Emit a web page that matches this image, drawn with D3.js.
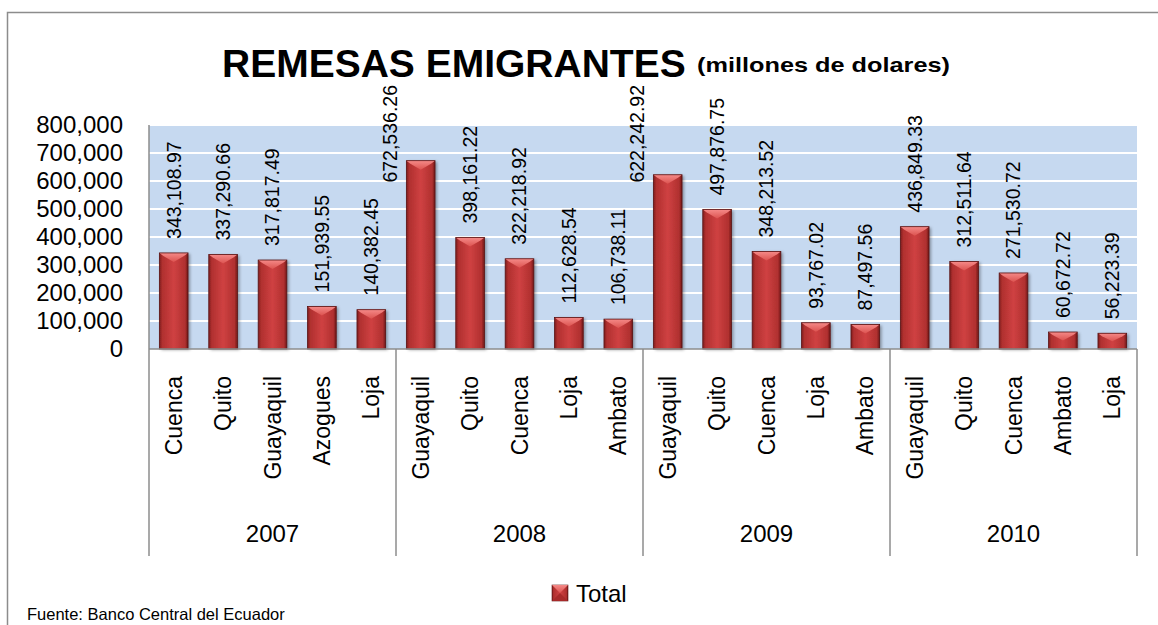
<!DOCTYPE html>
<html>
<head>
<meta charset="utf-8">
<script src="https://cdn.jsdelivr.net/npm/d3@7"></script>
<style>
  html, body { margin: 0; padding: 0; background: #fff; }
  svg { display: block; }
  text { font-family: "Liberation Sans", Arial, sans-serif; fill: #000; }
</style>
</head>
<body>
<svg id="chart" width="1158" height="625"></svg>
<script>
// ---- data ----
const years = ["2007", "2008", "2009", "2010"];
const categories = [
  "Cuenca", "Quito", "Guayaquil", "Azogues", "Loja",
  "Guayaquil", "Quito", "Cuenca", "Loja", "Ambato",
  "Guayaquil", "Quito", "Cuenca", "Loja", "Ambato",
  "Guayaquil", "Quito", "Cuenca", "Ambato", "Loja"
];
const categoryYear = [
  "2007", "2007", "2007", "2007", "2007",
  "2008", "2008", "2008", "2008", "2008",
  "2009", "2009", "2009", "2009", "2009",
  "2010", "2010", "2010", "2010", "2010"
];
const values = [
  343108.97, 337290.66, 317817.49, 151939.55, 140382.45,
  672536.26, 398161.22, 322218.92, 112628.54, 106738.11,
  622242.92, 497876.75, 348213.52, 93767.02, 87497.56,
  436849.33, 312511.64, 271530.72, 60672.72, 56223.39
];
const yTicks = [0, 100000, 200000, 300000, 400000, 500000, 600000, 700000, 800000];
const seriesName = "Total";
const titleMain = "REMESAS EMIGRANTES";
const titleSub = "(millones de dolares)";
const sourceNote = "Fuente: Banco Central del Ecuador";

// ---- layout ----
const svg = d3.select("#chart");
const plot = { left: 149, right: 1137, top: 125, bottom: 349 };
const catBottom = 556;
const titleFloor = 85;

const x = d3.scaleBand()
  .domain(d3.range(categories.length))
  .range([plot.left, plot.right])
  .paddingInner(0.42)
  .paddingOuter(0.21);

const y = d3.scaleLinear()
  .domain([0, 800000])
  .range([plot.bottom, plot.top]);

const defs = svg.append("defs");

// bar face gradient
const gFace = defs.append("linearGradient").attr("id", "face").attr("x1", 0).attr("x2", 1).attr("y1", 0).attr("y2", 0);
[["0%", "#7d1d1e"], ["10%", "#b0302f"], ["50%", "#cf4142"], ["90%", "#b0302f"], ["100%", "#6e1818"]]
  .forEach(([o, c]) => gFace.append("stop").attr("offset", o).attr("stop-color", c));
const gTop = defs.append("linearGradient").attr("id", "topbevel").attr("x1", 0).attr("x2", 0).attr("y1", 0).attr("y2", 1);
[["0%", "#f58a88"], ["100%", "#dc5350"]]
  .forEach(([o, c]) => gTop.append("stop").attr("offset", o).attr("stop-color", c));

const shadow = defs.append("filter").attr("id", "shadow").attr("x", "-30%").attr("y", "-10%").attr("width", "160%").attr("height", "130%");
shadow.append("feDropShadow").attr("dx", 2).attr("dy", 1).attr("stdDeviation", 1.8)
  .attr("flood-color", "#000").attr("flood-opacity", 0.35);

// outer frame
svg.append("rect")
  .attr("x", 7.5).attr("y", 12.5).attr("width", 1180).attr("height", 640)
  .attr("fill", "#fff").attr("stroke", "#8c8c8c").attr("stroke-width", 1.5);

// title
svg.append("text")
  .attr("x", 222).attr("y", 77)
  .attr("font-size", 39).attr("font-weight", "bold")
  .text(titleMain);
svg.append("text")
  .attr("x", 697).attr("y", 72)
  .attr("font-size", 21).attr("font-weight", "bold")
  .attr("textLength", 253).attr("lengthAdjust", "spacingAndGlyphs")
  .text(titleSub);

// plot background
svg.append("rect")
  .attr("x", plot.left).attr("y", plot.top)
  .attr("width", plot.right - plot.left).attr("height", plot.bottom - plot.top)
  .attr("fill", "#c6d9f0");

// gridlines
svg.append("g").selectAll("line").data(yTicks.filter(d => d > 0)).join("line")
  .attr("x1", plot.left).attr("x2", plot.right)
  .attr("y1", d => y(d)).attr("y2", d => y(d))
  .attr("stroke", "#fff").attr("stroke-width", 2);

// y axis labels
const yAxis = d3.axisLeft(y).tickValues(yTicks).tickFormat(d3.format(",")).tickSize(0).tickPadding(26);
const yg = svg.append("g").attr("transform", `translate(${plot.left},0)`).call(yAxis);
yg.select(".domain").remove();
yg.selectAll("text").attr("font-size", 24).attr("fill", "#000")
  .attr("font-family", '"Liberation Sans", Arial, sans-serif');

// bars
const bars = svg.append("g").selectAll("g").data(values).join("g");
bars.append("rect")
  .attr("x", (d, i) => x(i)).attr("y", d => y(d))
  .attr("width", x.bandwidth()).attr("height", d => y(0) - y(d))
  .attr("fill", "url(#face)")
  .attr("filter", "url(#shadow)");
bars.append("path")
  .attr("d", (d, i) => {
    const x0 = x(i), x1 = x(i) + x.bandwidth(), yt = y(d);
    const h = Math.min(9, (y(0) - y(d)) / 2);
    return `M${x0},${yt}L${x1},${yt}L${x1 - 4},${yt + 3}L${(x0 + x1) / 2},${yt + h}L${x0 + 4},${yt + 3}Z`;
  })
  .attr("fill", "url(#topbevel)");
bars.append("rect")
  .attr("x", (d, i) => x(i)).attr("y", d => y(d))
  .attr("width", x.bandwidth()).attr("height", d => y(0) - y(d))
  .attr("fill", "none").attr("stroke", "#5a1212").attr("stroke-width", 0.8);

// data labels
const fmt = d3.format(",.2f");
const labelSize = 19.5;
const fitsAbove = (d) => (y(d) - 14 - fmt(d).length * 0.5 * labelSize) >= titleFloor - 3;
svg.append("g").selectAll("text").data(values).join("text")
  .attr("font-size", labelSize)
  .attr("text-anchor", d => fitsAbove(d) ? "start" : "end")
  .attr("dy", "0.35em")
  .attr("transform", (d, i) => {
    if (fitsAbove(d)) {
      return `translate(${x(i) + x.bandwidth() / 2},${y(d) - 14}) rotate(-90)`;
    }
    // too tall: hang the label from under the title, beside the bar
    const cx = x(i) - (x.step() - x.bandwidth()) / 2 - 6;
    return `translate(${cx},${titleFloor}) rotate(-90)`;
  })
  .text(d => fmt(d));

// axis lines and category box
const groupEdge = k => x(k * 5) - (x.step() - x.bandwidth()) / 2;
svg.append("line")
  .attr("x1", plot.left).attr("x2", plot.right).attr("y1", plot.bottom).attr("y2", plot.bottom)
  .attr("stroke", "#8c8c8c").attr("stroke-width", 1.5);
svg.append("line")
  .attr("x1", plot.left).attr("x2", plot.left).attr("y1", plot.top).attr("y2", plot.bottom)
  .attr("stroke", "#8c8c8c").attr("stroke-width", 1.5);
svg.append("g").selectAll("line").data(d3.range(years.length + 1)).join("line")
  .attr("x1", k => k === years.length ? plot.right : groupEdge(k))
  .attr("x2", k => k === years.length ? plot.right : groupEdge(k))
  .attr("y1", plot.bottom).attr("y2", catBottom)
  .attr("stroke", "#8c8c8c").attr("stroke-width", 1.5);

// category labels
svg.append("g").selectAll("text").data(categories).join("text")
  .attr("font-size", 23)
  .attr("text-anchor", "end")
  .attr("dy", "0.35em")
  .attr("transform", (d, i) => `translate(${x(i) + x.bandwidth() / 2},${plot.bottom + 27}) rotate(-90)`)
  .text(d => d);

// year labels
svg.append("g").selectAll("text").data(years).join("text")
  .attr("font-size", 24)
  .attr("text-anchor", "middle")
  .attr("x", (d, k) => {
    const a = groupEdge(k);
    const b = k === years.length - 1 ? plot.right : groupEdge(k + 1);
    return (a + b) / 2;
  })
  .attr("y", 542)
  .text(d => d);

// legend
const lg = svg.append("g").attr("transform", "translate(552,585)");
lg.append("rect").attr("width", 16).attr("height", 16).attr("fill", "url(#face)").attr("stroke", "#5a1212").attr("stroke-width", 0.6);
lg.append("path").attr("d", "M0,0L16,0L8,8Z").attr("fill", "url(#topbevel)");
lg.append("path").attr("d", "M0,16L16,16L8,8Z").attr("fill", "#a82a2a");
lg.append("text").attr("x", 24).attr("y", 16.5).attr("font-size", 24).text(seriesName);

// source note
svg.append("text").attr("x", 27).attr("y", 620).attr("font-size", 16.5).text(sourceNote);
</script>
</body>
</html>
